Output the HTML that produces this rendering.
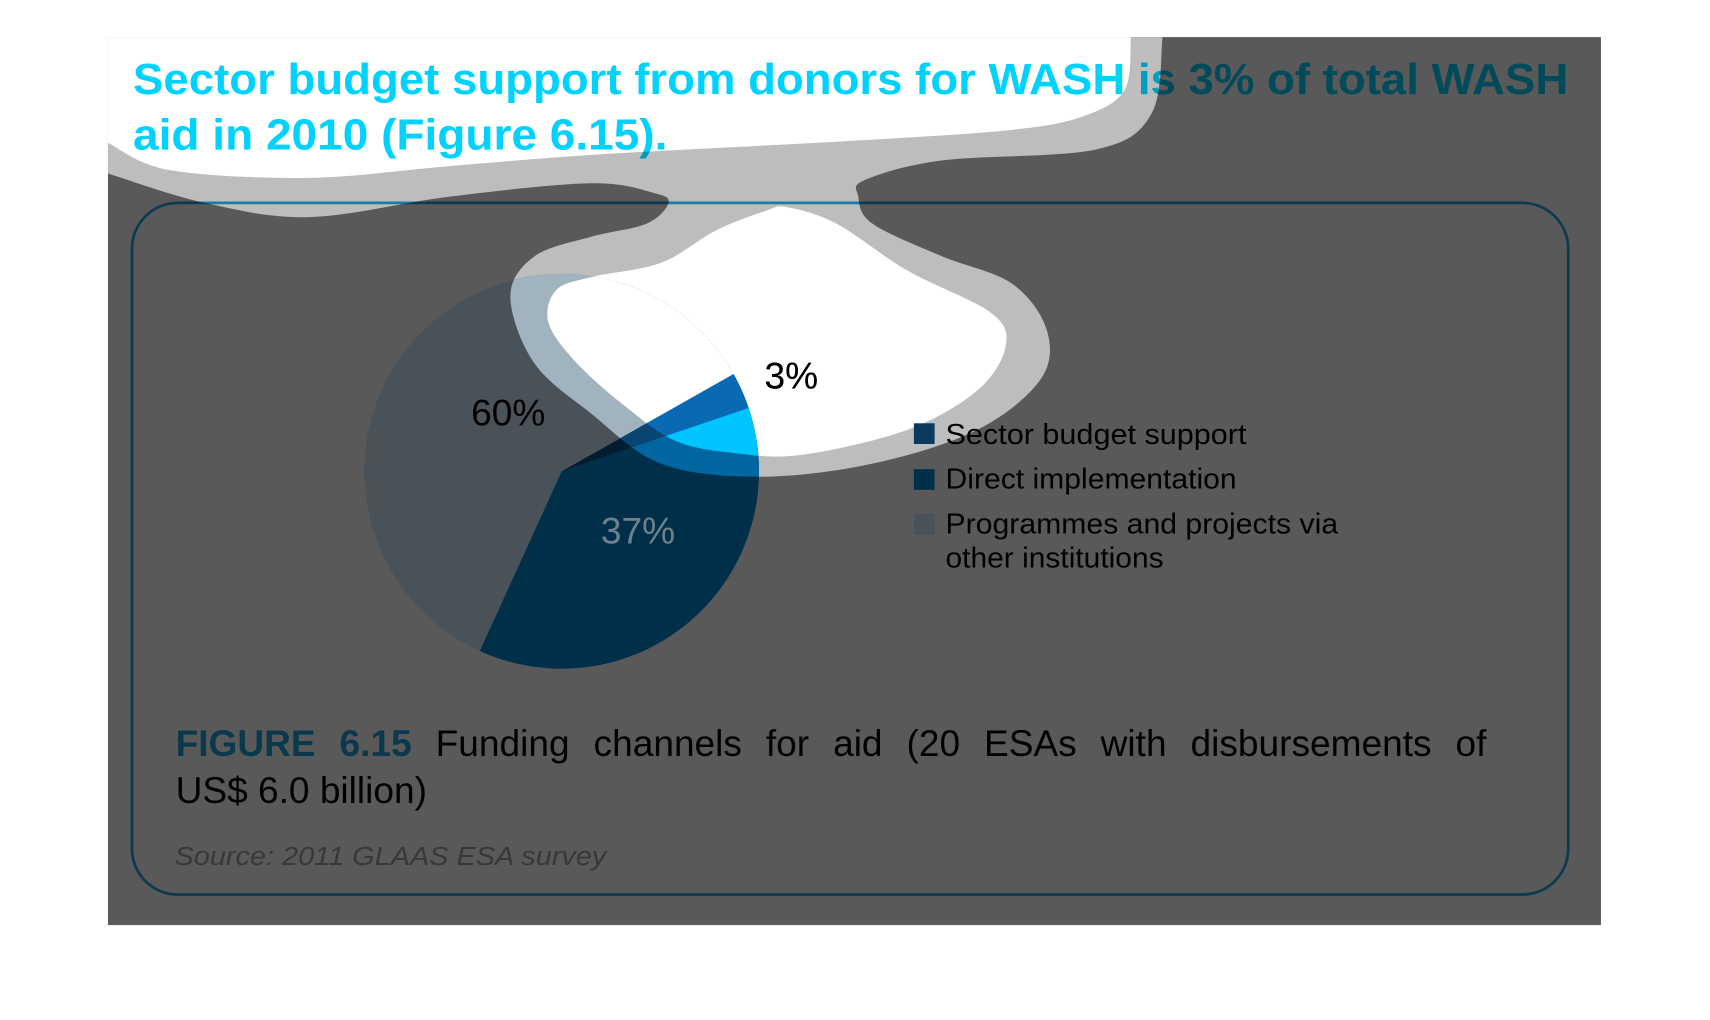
<!DOCTYPE html>
<html><head><meta charset="utf-8"><style>
html,body{margin:0;padding:0;background:#fff;width:1710px;height:1020px;overflow:hidden}
svg{display:block}
text{font-family:"Liberation Sans",sans-serif}
</style></head><body>
<svg id="chart" width="1710" height="1020" viewBox="0 0 1568 935" preserveAspectRatio="none" xmlns="http://www.w3.org/2000/svg">
<defs>
  <clipPath id="clipBorder"><path id="clipBorderPath"/></clipPath>
  <clipPath id="clipCenter"><path id="clipCenterPath"/></clipPath>
</defs>
<rect x="0" y="0" width="1568" height="935" fill="#fff"/>
<g id="base">
  <text x="122" y="86" font-size="40" font-weight="bold" fill="#00d2ff" textLength="1316" lengthAdjust="spacingAndGlyphs">Sector budget support from donors for WASH is 3% of total WASH</text>
  <text x="122" y="137" font-size="40" font-weight="bold" fill="#00d2ff" textLength="490" lengthAdjust="spacingAndGlyphs">aid in 2010 (Figure 6.15).</text>
  <rect x="121" y="186" width="1317" height="634" rx="42" fill="none" stroke="#20a8e6" stroke-width="2.5"/>
  <text x="701" y="356" font-size="34" fill="#000">3%</text>
  <text x="432" y="390" font-size="34" fill="#000">60%</text>
  <g id="legend">
    <text x="867" y="407" font-size="26" fill="#000" textLength="276" lengthAdjust="spacingAndGlyphs">Sector budget support</text>
    <text x="867" y="448" font-size="26" fill="#000" textLength="267" lengthAdjust="spacingAndGlyphs">Direct implementation</text>
    <text x="867" y="489" font-size="26" fill="#000" textLength="360" lengthAdjust="spacingAndGlyphs">Programmes and projects via</text>
    <text x="867" y="520" font-size="26" fill="#000" textLength="200" lengthAdjust="spacingAndGlyphs">other institutions</text>
  </g>
  <text id="cap1" x="161" y="693" font-size="34" fill="#000"><tspan font-weight="bold" fill="#1aa2dc">FIGURE 6.15</tspan> Funding channels for aid (20 ESAs with disbursements of</text>
  <text x="161" y="736" font-size="34" fill="#000">US$ 6.0 billion)</text>
  <text x="160" y="793" font-size="24" font-style="italic" fill="#a0a0a0" textLength="396" lengthAdjust="spacingAndGlyphs">Source: 2011 GLAAS ESA survey</text>
</g>
<g id="overlay" style="mix-blend-mode:multiply">
  <rect x="99" y="34" width="1369" height="814" fill="#595959"/>
  <path id="blobBorder" fill="#bdbdbd"/>
  <path id="blobTop" fill="#fff"/>
  <path id="blobCenter" fill="#fff"/>
</g>
<g id="pie">
  <g id="pieDark"></g>
  <g id="pieMid" clip-path="url(#clipBorder)"></g>
  <g id="pieLight" clip-path="url(#clipCenter)"></g>
</g>
<text x="701" y="356" font-size="34" fill="#000">3%</text>
<text x="432" y="390" font-size="34" fill="#000">60%</text>
<text x="551" y="498" font-size="34" fill="#6f808c">37%</text>
<rect x="838" y="388" width="19" height="19" fill="#0b3a60"/>
<rect x="838" y="430" width="19" height="19" fill="#003049"/>
<rect x="838" y="471" width="19" height="19" fill="#4a5259"/>
</svg>
<script>
const categories = ["Sector budget support", "Direct implementation", "Programmes and projects via other institutions"];
const shares = [3, 37, 60];
const darkColors = ["#021c30", "#003049", "#4a5259"];
const midColors = ["#0a4470", "#0066a0", "#a0b3bf"];
const lightColors = ["#0a69b3", "#00c4ff", "#ffffff"];
const startAngleDeg = -29.5;
const cx = 515, cy = 432, r = 181;

function smooth(pts, closed){
  let d = 'M' + pts[0][0] + ',' + pts[0][1];
  const n = pts.length;
  const g = i => closed ? pts[(i + n) % n] : pts[Math.max(0, Math.min(n - 1, i))];
  const last = closed ? n : n - 1;
  for (let i = 0; i < last; i++){
    const p0 = g(i - 1), p1 = g(i), p2 = g(i + 1), p3 = g(i + 2);
    const c1 = [p1[0] + (p2[0] - p0[0]) / 6, p1[1] + (p2[1] - p0[1]) / 6];
    const c2 = [p2[0] - (p3[0] - p1[0]) / 6, p2[1] - (p3[1] - p1[1]) / 6];
    d += ` C${c1[0]},${c1[1]} ${c2[0]},${c2[1]} ${p2[0]},${p2[1]}`;
  }
  return d + ' Z';
}
const topPts = [[99,131],[156,156],[284,163],[414,152],[542,142],[670,135],[800,128],[928,119],[992,107],[1031,83],[1037,34]];
document.getElementById('blobTop').setAttribute('d', 'M99,34 L' + smooth(topPts, false).slice(1));
const borderPts = [[1066,34],[1056,104],[1005,137],[864,147],[793,165],[787,180],[800,205],[864,235],[928,260],[960,303],[954,348],[896,394],[800,425],[696,437],[606,425],[542,379],[490,333],[468,272],[490,235],[542,217],[593,205],[613,186],[600,177],[542,168],[414,180],[284,199],[188,186],[99,159]];
const borderD = 'M99,34 L' + smooth(borderPts, false).slice(1);
document.getElementById('blobBorder').setAttribute('d', borderD);
document.getElementById('clipBorderPath').setAttribute('d', borderD);
const centerPts = [[722,190],[767,205],[832,248],[909,287],[922,318],[896,358],[832,394],[735,417],[671,415],[619,404],[574,373],[529,333],[503,296],[510,266],[542,254],[606,241],[657,211],[703,193]];
const centerD = smooth(centerPts, true);
document.getElementById('blobCenter').setAttribute('d', centerD);
document.getElementById('clipCenterPath').setAttribute('d', centerD);

function pt(a){ const t = a * Math.PI / 180; return [cx + r * Math.cos(t), cy + r * Math.sin(t)]; }
const total = shares.reduce((a, b) => a + b, 0);
const layers = [["pieDark", darkColors], ["pieMid", midColors], ["pieLight", lightColors]];
layers.forEach(([id, colors]) => {
  const grp = document.getElementById(id);
  let ang = startAngleDeg;
  shares.forEach((v, i) => {
    const sweep = v / total * 360;
    const p0 = pt(ang), p1 = pt(ang + sweep);
    const large = sweep > 180 ? 1 : 0;
    const el = document.createElementNS('http://www.w3.org/2000/svg', 'path');
    el.setAttribute('d', `M${cx},${cy} L${p0[0]},${p0[1]} A${r},${r} 0 ${large} 1 ${p1[0]},${p1[1]} Z`);
    el.setAttribute('fill', colors[i]);
    
    
    grp.appendChild(el);
    ang += sweep;
  });
});

const cap = document.getElementById('cap1');
const natural = cap.getComputedTextLength();
const spaces = (cap.textContent.match(/ /g) || []).length;
if (spaces && natural < 1202) cap.setAttribute('word-spacing', ((1202 - natural) / spaces).toFixed(2));
</script>
</body></html>
